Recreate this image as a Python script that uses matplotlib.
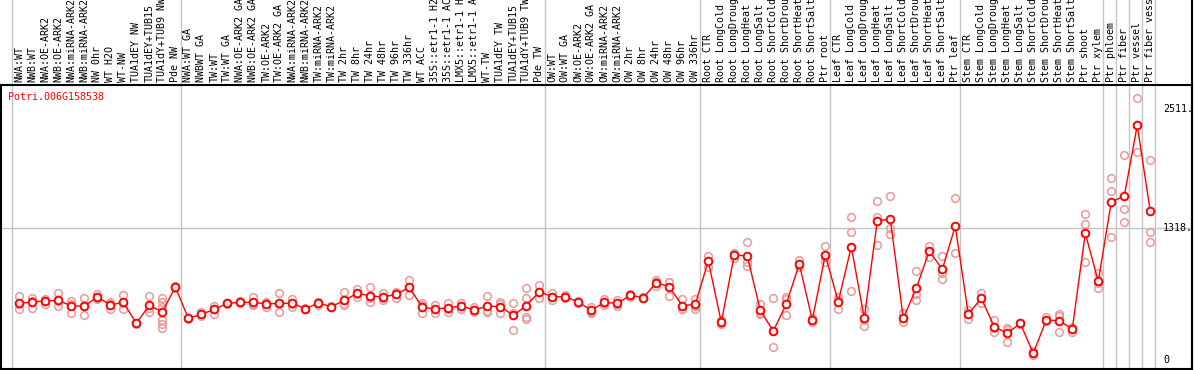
import matplotlib.pyplot as plt

labels = [
    "NWA:WT", "NWB:WT", "NWA:OE-ARK2", "NWB:OE-ARK2", "NWA:miRNA-ARK2", "NWB:miRNA-ARK2",
    "NW 0hr", "WT H2O", "WT-NW", "TUA1dEY NW", "TUA1dEY+TUB15", "TUA1dY+TUB9 NW", "Pde NW",
    "NWA:WT GA", "NWBWT GA", "TW:WT", "TW:WT GA", "NWA:OE-ARK2 GA", "NWB:OE-ARK2 GA",
    "TW:OE-ARK2", "TW:OE-ARK2 GA", "NWA:miRNA-ARK2", "NWB:miRNA-ARK2", "TW:miRNA-ARK2",
    "TW:miRNA-ARK2", "TW 2hr", "TW 8hr", "TW 24hr", "TW 48hr", "TW 96hr", "TW 336hr", "WT ACC",
    "35S::etr1-1 H2O", "35S::etr1-1 ACC", "LMX5::etr1-1 H2O", "LMX5::etr1-1 ACC", "WT-TW",
    "TUA1dEY TW", "TUA1dEY+TUB15", "TUA1dY+TUB9 TW", "Pde TW",
    "OW:WT", "OW:WT GA", "OW:OE-ARK2", "OW:OE-ARK2 GA", "OW:miRNA-ARK2", "OW:miRNA-ARK2",
    "OW 2hr", "OW 8hr", "OW 24hr", "OW 48hr", "OW 96hr", "OW 336hr",
    "Root CTR", "Root LongCold", "Root LongDrought", "Root LongHeat", "Root LongSalt",
    "Root ShortCold", "Root ShortDrought", "Root ShortHeat", "Root ShortSalt", "Ptr root",
    "Leaf CTR", "Leaf LongCold", "Leaf LongDrought", "Leaf LongHeat", "Leaf LongSalt",
    "Leaf ShortCold", "Leaf ShortDrought", "Leaf ShortHeat", "Leaf ShortSalt", "Ptr leaf",
    "Stem CTR", "Stem LongCold", "Stem LongDrought", "Stem LongHeat", "Stem LongSalt",
    "Stem ShortCold", "Stem ShortDrought", "Stem ShortHeat", "Stem ShortSalt", "Ptr shoot",
    "Ptr xylem", "Ptr phloem", "Ptr fiber", "Ptr vessel", "Ptr fiber vessel",
]

group_sizes = [13, 28, 12, 10, 10, 11, 1, 1, 1, 1]

means = [
    567, 580, 590, 597, 540, 540, 630, 550, 577, 367, 547, 480, 730,
    417, 457, 507, 567, 577, 577, 560, 567, 567, 513, 570, 533, 597, 667, 640, 630,
    657, 727, 527, 510, 523, 540, 500, 540, 533, 447, 543, 683,
    633, 633, 580, 497, 577, 567, 647, 623, 773, 733, 543, 557,
    990, 377, 1050, 1040, 497, 290, 560, 960, 400, 1050,
    583, 1133, 417, 1390, 1410, 417, 717, 1090, 907, 1340,
    460, 617, 333, 267, 367, 67, 400, 393, 310, 1267, 787,
    1580, 1640, 2347, 1487,
]

replicates = [
    [640, 507, 557], [623, 523, 590], [613, 563, 590], [670, 537, 590], [590, 473, 560],
    [620, 447, 553], [660, 623, 610], [577, 507, 563], [650, 513, 570], [367, 360, 373],
    [640, 483, 520], [623, 577, 533, 400, 357, 323], [730, 740, 720],
    [417, 410, 423], [457, 477, 437], [543, 463, 513], [567, 560, 573], [587, 567, 577],
    [627, 557, 547], [567, 533, 580], [667, 477, 557], [613, 533, 557], [513, 507, 520],
    [580, 553, 577], [533, 527, 540], [550, 683, 557], [710, 633, 657], [727, 577, 617],
    [667, 600, 623], [683, 617, 670], [800, 647, 733], [567, 467, 547], [550, 467, 513],
    [573, 513, 483], [573, 507, 540], [527, 477, 497], [643, 483, 493], [577, 467, 557],
    [567, 300, 473], [717, 617, 427, 410], [750, 617, 683],
    [673, 600, 627], [650, 617, 633], [580, 590, 570], [533, 473, 483], [610, 547, 573],
    [600, 540, 560], [660, 647, 633], [623, 630, 617], [800, 743, 777], [783, 640, 777],
    [607, 507, 513], [613, 513, 543],
    [1043, 933, 993], [400, 360, 370], [1073, 1023, 1057], [1177, 983, 940], [560, 457, 473],
    [617, 127, 290], [627, 447, 607], [1000, 933, 947], [383, 400, 417], [1140, 983, 1030],
    [633, 513, 600], [1427, 1277, 690], [507, 340, 400], [1590, 1433, 1150],
    [1640, 1317, 1257], [467, 383, 417], [887, 600, 663], [1140, 1033, 1090],
    [1043, 807, 870], [1617, 1067, 1340],
    [500, 410, 470], [667, 567, 617], [400, 283, 317], [317, 180, 303], [367, 360, 373],
    [93, 67, 47], [433, 400, 390], [460, 277, 440], [333, 283, 310], [1457, 1360, 977],
    [873, 717, 770],
    [1820, 1690, 1227], [2050, 1507, 1377], [2617, 2080, 2347], [1997, 1277, 1177],
]

ref_values = [0, 1318, 2511]
ref_labels = ["0", "1318.", "2511."]
gene = "Potri.006G158538"

mono = "DejaVu Sans Mono"
W, H = 1194, 370
fig = plt.figure(figsize=(W / 100, H / 100), dpi=100)
ax = fig.add_axes([1 / W, 1 - 369 / H, 1191 / W, 284 / H])

x = list(range(len(means)))
for i, reps in enumerate(replicates):
    ax.plot([i] * len(reps), reps, 'o', ms=5.5, mfc='none', mec='#e89a9a', mew=1.1, zorder=3)
ax.plot(x, means, '-', color='#ff0000', lw=1, zorder=4)
ax.plot(x, means, 'o', ms=5.5, mfc='white', mec='#ff0000', mew=1.4, zorder=5)

ax.axhline(1318, color='#c4c4c4', lw=1, zorder=1)
bounds = [0]
for g in group_sizes:
    bounds.append(bounds[-1] + g)
for b in bounds:
    ax.axvline(b - 0.6, ymin=0, ymax=1.3, color='#c4c4c4', lw=1, clip_on=False, zorder=1)

ax.plot([1, 1], [0, 1.3], transform=ax.transAxes, color='black', lw=1.5, clip_on=False)

ax.set_xlim(-1.41, 90.21)
ax.set_ylim(-90, 2750)
ax.set_xticks(x)
ax.set_xticklabels(labels, rotation=90, fontfamily=mono, fontsize=7.2)
ax.xaxis.tick_top()
ax.tick_params(axis='x', length=0, pad=2)
ax.set_yticks([])
for s in ax.spines.values():
    s.set_linewidth(1.5)

tr = ax.get_yaxis_transform()
for v, t in zip(ref_values, ref_labels):
    ax.text(0.9757, v, t, transform=tr, ha='left', va='center', fontfamily=mono, fontsize=7.2)

ax.text(0.006, 0.975, gene, transform=ax.transAxes, color='#ff0000', ha='left', va='top',
        fontfamily=mono, fontsize=7.2)

plt.savefig('out.png', dpi=100)
